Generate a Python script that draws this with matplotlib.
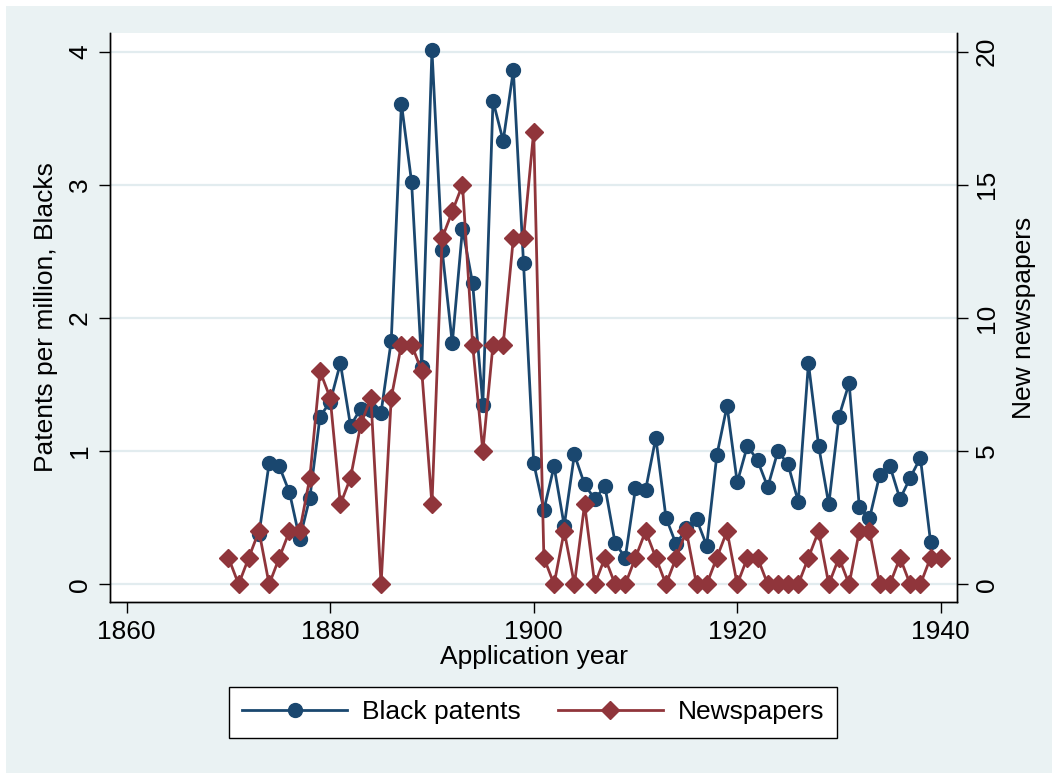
import numpy as np
import matplotlib
matplotlib.use("Agg")
import matplotlib.pyplot as plt
from matplotlib.patches import Rectangle

plt.rcParams["font.family"] = ["Liberation Sans", "DejaVu Sans"]

# ── data ────────────────────────────────────────────────────────────────
patent_years = list(range(1873, 1940))
black_patents = [
    0.375, 0.91, 0.885, 0.69, 0.34, 0.65, 1.26, 1.37, 1.66, 1.19,   # 1873-1882
    1.32, 1.31, 1.29, 1.83, 3.61, 3.02, 1.63, 4.01, 2.51, 1.81,     # 1883-1892
    2.67, 2.26, 1.35, 3.63, 3.33, 3.86, 2.41, 0.91, 0.56, 0.885,    # 1893-1902
    0.44, 0.975, 0.75, 0.64, 0.735, 0.31, 0.20, 0.72, 0.71, 1.10,   # 1903-1912
    0.50, 0.30, 0.42, 0.49, 0.29, 0.97, 1.34, 0.765, 1.04, 0.93,    # 1913-1922
    0.73, 1.00, 0.90, 0.62, 1.66, 1.04, 0.60, 1.26, 1.51, 0.58,     # 1923-1932
    0.495, 0.82, 0.89, 0.64, 0.80, 0.95, 0.32,                      # 1933-1939
]

paper_years = list(range(1870, 1941))
newspapers = [
    1, 0, 1, 2, 0, 1, 2, 2, 4, 8,        # 1870-1879
    7, 3, 4, 6, 7, 0, 7, 9, 9, 8,        # 1880-1889
    3, 13, 14, 15, 9, 5, 9, 9, 13, 13,   # 1890-1899
    17, 1, 0, 2, 0, 3, 0, 1, 0, 0,       # 1900-1909
    1, 2, 1, 0, 1, 2, 0, 0, 1, 2,        # 1910-1919
    0, 1, 1, 0, 0, 0, 0, 1, 2, 0,        # 1920-1929
    1, 0, 2, 2, 0, 0, 1, 0, 0, 1,        # 1930-1939
    1,                                   # 1940
]

x_ticks = [1860, 1880, 1900, 1920, 1940]
left_ticks = [0, 1, 2, 3, 4]
right_ticks = [0, 5, 10, 15, 20]

BLUE = "#1A476F"
RED = "#90353B"
BG = "#EAF2F3"
GRID = "#E2ECEF"
FS = 19

# ── figure ──────────────────────────────────────────────────────────────
fig = plt.figure(figsize=(10.52, 7.73), dpi=100, facecolor="white")
fig.patches.append(Rectangle((6 / 1052, 0), 1 - 6 / 1052, 1 - 6 / 773,
                             transform=fig.transFigure, facecolor=BG,
                             edgecolor="none", zorder=-10))

ax = fig.add_axes([110 / 1052, 1 - 602 / 773, 847 / 1052, 569 / 773])
ax.set_facecolor("white")
ax2 = ax.twinx()

l1, = ax.plot(patent_years, black_patents, color=BLUE, lw=2, marker="o",
              ms=10, zorder=3, label="Black patents")
l2, = ax2.plot(paper_years, newspapers, color=RED, lw=2, marker="D",
               ms=9, zorder=3, label="Newspapers")

ax.set_xlim(1858.36, 1941.6)
ax.set_ylim(-0.133, 4.14)
ax2.set_ylim(-0.665, 20.7)

ax.set_xticks(x_ticks)
ax.set_yticks(left_ticks)
ax2.set_yticks(right_ticks)
ax.grid(axis="y", color=GRID, lw=1.6)
ax.set_axisbelow(True)

for a in (ax, ax2):
    a.spines["top"].set_visible(False)
    for s in ("left", "right", "bottom"):
        a.spines[s].set_linewidth(1.0)
        a.spines[s].set_color("black")
    a.tick_params(length=8, width=1, labelsize=FS, pad=5)

for lab in ax.get_yticklabels():
    lab.set_rotation(90)
    lab.set_va("center")
for lab in ax2.get_yticklabels():
    lab.set_rotation(90)
    lab.set_va("center")

ax.set_xlabel("Application year", fontsize=FS, labelpad=1)
ax.set_ylabel("Patents per million, Blacks", fontsize=FS, labelpad=7)
ax2.set_ylabel("New newspapers", fontsize=FS, labelpad=9)

leg = fig.legend(handles=[l1, l2], loc="center", ncol=2,
                 bbox_to_anchor=(533 / 1052, 1 - 712.5 / 773),
                 fontsize=FS, frameon=True, fancybox=False,
                 edgecolor="black", facecolor="white", framealpha=1,
                 handlelength=4.0, handletextpad=0.55, columnspacing=1.4,
                 borderpad=0.5, numpoints=1)
leg.get_frame().set_linewidth(1.0)

fig.savefig("out.png", dpi=100, facecolor=fig.get_facecolor())
